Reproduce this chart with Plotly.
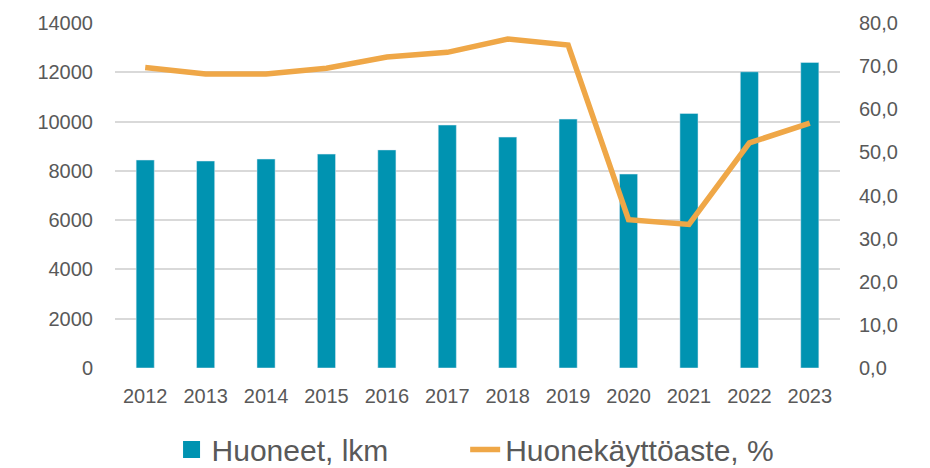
import plotly.graph_objects as go

years = ["2012", "2013", "2014", "2015", "2016", "2017", "2018", "2019", "2020", "2021", "2022", "2023"]
rooms = [8440, 8400, 8480, 8680, 8850, 9860, 9370, 10100, 7870, 10330, 12020, 12400]
occupancy = [69.7, 68.2, 68.2, 69.5, 72.1, 73.2, 76.3, 74.9, 34.4, 33.3, 52.2, 56.8]

font_family = "Liberation Sans, Arial, sans-serif"
text_color = "#595959"
bar_color = "#0093B1"
line_color = "#EFA747"
tick_size = 20

fig = go.Figure()
fig.add_trace(go.Bar(x=years, y=rooms, name="Huoneet, lkm", marker_color=bar_color,
                     width=0.3, yaxis="y", showlegend=False))
# legend entry for the bars (larger swatch)
fig.add_trace(go.Bar(x=[None], y=[None], name="Huoneet, lkm", marker_color=bar_color,
                     marker_line=dict(color=bar_color, width=10), yaxis="y",
                     legend="legend"))
fig.add_trace(go.Scatter(x=years, y=occupancy, name="Huonekäyttöaste, %", mode="lines",
                         line=dict(color=line_color, width=5.5), yaxis="y2",
                         legend="legend2"))

legend_common = dict(orientation="h", xanchor="left", y=-0.236, yanchor="middle",
                     font=dict(size=30, color=text_color), itemwidth=30,
                     bgcolor="rgba(0,0,0,0)")

fig.update_layout(
    width=930, height=468,
    margin=dict(l=107, r=98, t=15, b=108, autoexpand=False),
    plot_bgcolor="white", paper_bgcolor="white",
    font=dict(family=font_family, color=text_color, size=tick_size),
    barmode="overlay",
    xaxis=dict(type="category", showgrid=False, showline=False, ticks="",
               tickfont=dict(size=tick_size, color=text_color), ticklabelstandoff=14),
    yaxis=dict(range=[0, 14000], dtick=2000, tickformat="d", showgrid=True,
               gridcolor="#D9D9D9", gridwidth=1.5, zeroline=False,
               tickfont=dict(size=tick_size, color=text_color), ticklabelstandoff=21),
    yaxis2=dict(range=[0, 80], dtick=10, overlaying="y", side="right", showgrid=False,
                zeroline=False, tickformat=".1f",
                tickfont=dict(size=tick_size, color=text_color), ticklabelstandoff=18),
    separators=",\u00a0",
    legend=dict(x=0.078, **legend_common),
    legend2=dict(x=0.483, **legend_common),
)
fig.write_html("out.html")
